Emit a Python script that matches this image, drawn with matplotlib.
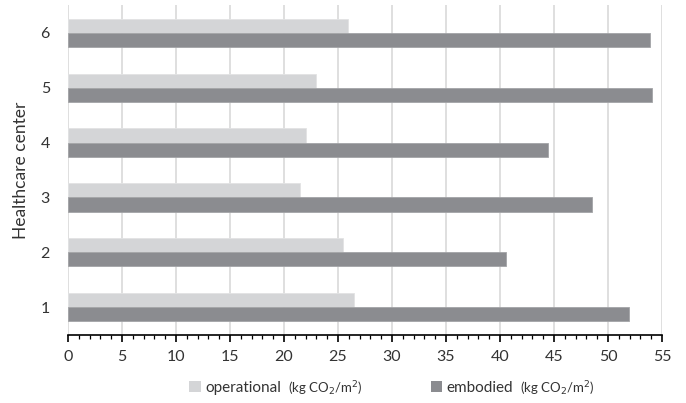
import matplotlib
matplotlib.use("Agg")
from matplotlib import pyplot as plt
from matplotlib.patches import Patch
from matplotlib.ticker import MultipleLocator
import numpy as np

# data
centers = [1, 2, 3, 4, 5, 6]
operational = [26.45, 25.5, 21.5, 22.0, 23.0, 25.9]
embodied = [51.9, 40.6, 48.5, 44.4, 54.1, 53.9]
series_names = ["operational", "embodied"]
unit_label = r"(kg CO$_2$/m$^2$)"

light = "#d4d5d7"
dark = "#8b8c90"

plt.rcParams['font.family'] = ['Lato', 'DejaVu Sans']

fig = plt.figure(figsize=(6.86, 4.03), dpi=100)
ax = fig.add_axes([68 / 686, 1 - 335 / 403, (662 - 68) / 686, (335 - 5) / 403])

y = np.array(centers)
h = 0.26
ax.barh(y + h / 2, operational, height=h, color=light, edgecolor="#e2e3e4", linewidth=0.6, zorder=3)
ax.barh(y - h / 2, embodied, height=h, color=dark, edgecolor="#a3a4a7", linewidth=0.6, zorder=3)

ax.set_xlim(0, 55)
ax.set_ylim(0.49, 6.51)
ax.set_yticks(centers)
ax.set_yticklabels([str(c) for c in centers])
ax.xaxis.set_major_locator(MultipleLocator(5))
ax.xaxis.set_minor_locator(MultipleLocator(1))
ax.grid(axis="x", color="#d9d9d9", linewidth=1.2, zorder=0)
ax.tick_params(axis="y", length=0, pad=13, labelsize=11.5, colors="#333333")
ax.tick_params(axis="x", which="major", length=5, width=1.2, direction="out", labelsize=11.5,
               colors="black", labelcolor="#333333", pad=6)
ax.tick_params(axis="x", which="minor", length=3, width=0.9, direction="out")
for s in ["left", "top", "right"]:
    ax.spines[s].set_visible(False)
ax.spines["bottom"].set_linewidth(1.2)
ax.set_ylabel("Healthcare center", fontsize=12.5, color="#333333", labelpad=8)

handles = [Patch(facecolor=light), Patch(facecolor=dark)]
leg = fig.legend(handles, series_names, loc="center left", bbox_to_anchor=(183 / 686, 1 - 388 / 403),
                 ncol=2, frameon=False, fontsize=11, handlelength=0.75, handleheight=0.75,
                 handletextpad=0.3, columnspacing=9.8, borderaxespad=0)
for t in leg.get_texts():
    t.set_color("#333333")

# units after each legend entry, set smaller and lower like the original
fig.canvas.draw()
r = fig.canvas.get_renderer()
inv = fig.transFigure.inverted()
for t in leg.get_texts():
    bb = t.get_window_extent(r)
    x0, y0 = inv.transform((bb.x1 + 7, bb.y0 - 3))
    fig.text(x0, y0, unit_label, fontsize=9.5, color="#333333", va="bottom", ha="left")

fig.savefig("out.png", dpi=100)
